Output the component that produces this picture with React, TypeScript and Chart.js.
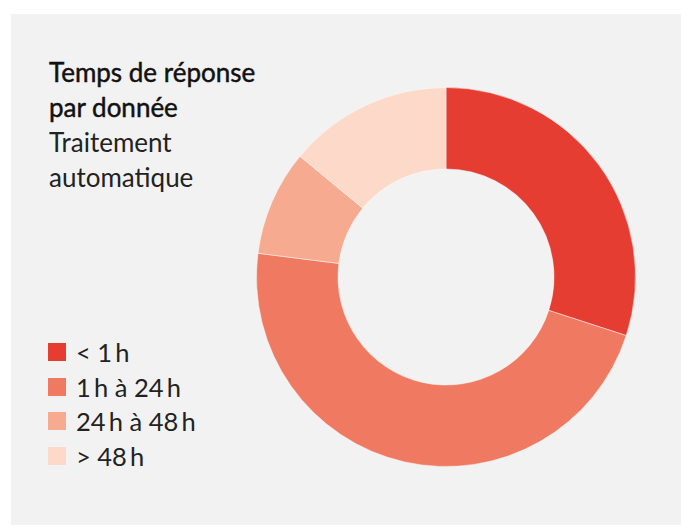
import React, { useEffect, useRef } from "react";
import { Chart, registerables } from "chart.js";

Chart.register(...registerables);

const categories = ["< 1\u2009h", "1\u2009h à 24\u2009h", "24\u2009h à 48\u2009h", "> 48\u2009h"];
const values = [30, 47, 9, 14];
const colors = ["#e63d33", "#f07a61", "#f6aa90", "#fcd9c8"];
const titleLines = ["Temps de réponse", "par donnée"];
const subtitleLines = ["Traitement", "automatique"];

const FONT = "Lato, 'Open Sans', sans-serif";

export default function App() {
  const ref = useRef<HTMLCanvasElement | null>(null);

  useEffect(() => {
    if (!ref.current) return;
    const chart = new Chart(ref.current, {
      type: "doughnut",
      data: {
        labels: categories,
        datasets: [
          {
            data: values,
            backgroundColor: colors,
            borderColor: "rgba(255,255,255,0.45)",
            borderWidth: 1,
          },
        ],
      },
      options: {
        animation: false,
        responsive: false,
        maintainAspectRatio: false,
        cutout: "57%",
        layout: { padding: 0 },
        plugins: { legend: { display: false }, tooltip: { enabled: false } },
      },
    });
    return () => chart.destroy();
  }, []);

  return (
    <div
      style={{
        position: "absolute",
        left: 0,
        top: 0,
        width: 681,
        height: 526,
        background: "#fff",
        overflow: "hidden",
        fontFamily: FONT,
      }}
    >
      <div
        style={{
          position: "absolute",
          left: 11,
          top: 14,
          width: 670,
          height: 511,
          background: "#f2f2f2",
        }}
      />
      <div style={{ position: "absolute", left: 49, top: 55, lineHeight: "35px", fontSize: 26 }}>
        {titleLines.map((t, i) => (
          <div key={"t" + i} style={{ color: "#111", fontWeight: 400, WebkitTextStroke: "0.45px #111" }}>
            {t}
          </div>
        ))}
        {subtitleLines.map((t, i) => (
          <div key={"s" + i} style={{ color: "#222", fontWeight: 400 }}>
            {t}
          </div>
        ))}
      </div>
      <div style={{ position: "absolute", left: 48, top: 335 }}>
        {categories.map((c, i) => (
          <div
            key={c}
            style={{ display: "flex", alignItems: "center", height: 34.5, fontSize: 25.5, color: "#222" }}
          >
            <span
              style={{
                display: "inline-block",
                width: 18,
                height: 18,
                background: colors[i],
                marginRight: 10,
              }}
            />
            <span>{c}</span>
          </div>
        ))}
      </div>
      <canvas
        ref={ref}
        width={380}
        height={380}
        style={{ position: "absolute", left: 256, top: 87, width: 380, height: 380 }}
      />
    </div>
  );
}
